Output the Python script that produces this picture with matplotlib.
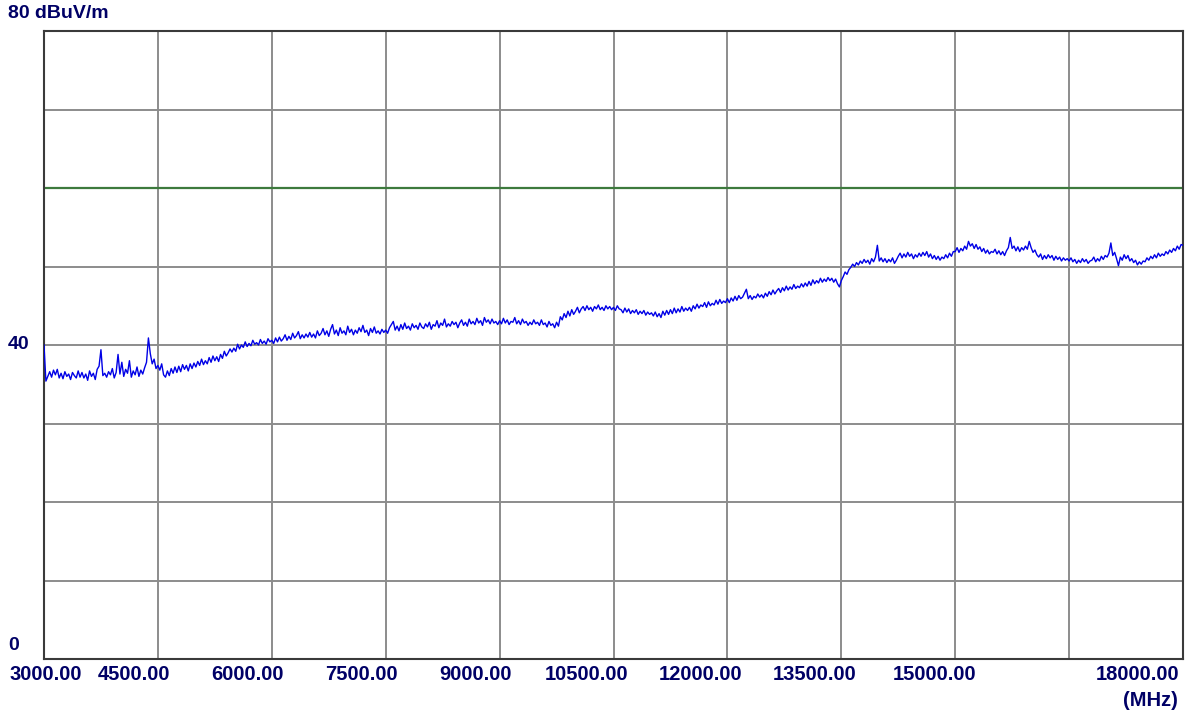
import numpy as np
import matplotlib
matplotlib.use('Agg')
import matplotlib.pyplot as plt
from matplotlib import transforms

# Frequency axis (MHz), one reading every 25 MHz
freq_start = 3000
freq_step = 25

level = [
    40.0, 35.4, 36.0, 36.6, 35.9, 36.8, 36.2, 36.9, 35.8, 36.4, 35.7, 36.6, 36.0, 36.3, 35.6, 36.5, 36.1, 35.8, 36.7, 35.9,
    36.5, 35.8, 36.3, 35.5, 36.7, 36.0, 36.4, 35.6, 36.9, 37.3, 39.4, 36.1, 36.4, 35.9, 36.6, 36.2, 37.0, 35.8, 36.5, 38.8,
    36.3, 37.8, 36.0, 36.9, 36.4, 38.0, 35.9, 36.7, 36.2, 37.2, 36.0, 36.8, 36.3, 37.1, 37.8, 40.9, 38.9, 37.6, 38.2, 37.0,
    37.4, 36.8, 37.6, 36.2, 35.9, 36.7, 36.1, 37.0, 36.4, 37.2, 36.5, 37.3, 36.6, 37.5, 36.9, 37.4, 36.7, 37.6, 37.0, 37.7,
    37.2, 37.9, 37.4, 38.2, 37.5, 38.0, 37.6, 38.4, 37.8, 38.6, 38.0, 38.5, 37.9, 38.8, 38.3, 39.2, 38.6, 39.0, 39.5, 39.1,
    39.6, 39.2, 40.1, 39.5, 40.0, 39.7, 40.4, 39.8, 40.2, 39.9, 40.6, 40.1, 40.3, 40.0, 40.7, 40.2, 40.5, 40.1, 40.8, 40.4,
    40.6, 40.2, 40.9, 40.4, 41.0, 40.5, 40.8, 41.3, 40.6, 41.1, 40.7, 41.5, 40.9, 41.2, 41.7, 40.8, 41.3, 40.9, 41.4, 41.0,
    41.6, 41.0, 41.4, 40.9, 41.8, 41.2, 41.5, 42.1, 41.3, 41.8, 41.1, 42.0, 42.6, 41.4, 41.9, 41.2, 42.2, 41.5, 41.8, 41.3,
    42.4, 41.6, 42.0, 41.3, 41.9, 41.5, 42.2, 41.7, 42.5, 41.6, 41.9, 41.2, 42.1, 41.6, 42.3, 41.5, 41.8, 41.4, 42.0, 41.6,
    41.9, 41.5, 42.2, 42.6, 43.0, 41.9, 42.4, 41.8, 42.6, 42.0, 42.8, 42.1, 42.4, 41.9, 42.7, 42.2, 42.5, 42.0, 42.8, 42.3,
    42.1, 42.7, 42.3, 42.9, 42.0, 42.6, 42.4, 43.1, 42.2, 42.8, 42.5, 43.3, 42.3, 42.7, 42.4, 43.0, 42.6, 42.9, 42.2, 42.8,
    43.2, 42.5, 42.9, 42.4, 43.3, 42.7, 43.0, 42.6, 43.4, 42.8, 43.1, 42.5, 43.5, 42.9, 43.2, 42.7, 43.3, 42.8, 43.0, 42.6,
    43.1, 42.7, 43.4, 42.8, 43.2, 42.6, 43.0, 42.9, 43.5, 42.7, 43.1, 42.6, 43.3, 42.8, 43.0, 42.5, 42.9, 42.6, 43.2, 42.7,
    42.9, 42.5, 43.2, 42.6, 42.8, 42.3, 43.0, 42.5, 42.7, 42.2, 42.9, 42.4, 43.6, 43.2, 44.0, 43.5, 44.3, 43.7, 44.5, 43.9,
    44.3, 44.8, 44.1, 44.6, 44.9, 44.4, 45.0, 44.5, 44.8, 44.3, 44.9, 44.6, 45.1, 44.5, 44.8, 44.4, 45.0, 44.6, 44.9, 44.5,
    44.8, 44.4, 45.0, 44.6, 44.5, 44.1, 44.7, 44.2, 44.6, 44.0, 44.4, 44.1, 44.5, 43.9, 44.3, 44.0, 44.4, 43.8, 44.2, 43.9,
    44.1, 43.7, 44.2, 43.6, 44.0, 43.5, 44.3, 43.8, 44.4, 43.9, 44.5, 44.0, 44.7, 44.1, 44.6, 44.2, 44.9, 44.3, 44.7, 44.4,
    44.8, 44.3, 45.0, 44.6, 45.2, 44.7, 45.1, 44.9, 45.4, 44.8, 45.5, 45.0, 45.3, 45.1, 45.7, 45.2, 45.8, 45.3, 45.6, 45.4,
    45.9, 45.4, 46.0, 45.6, 46.2, 45.7, 46.3, 45.9, 46.1, 46.6, 47.1, 45.9, 46.3, 45.8, 46.2, 46.0, 46.5, 46.1, 46.4, 46.0,
    46.6, 46.2, 46.8, 46.4, 47.0, 46.5, 46.9, 47.2, 46.7, 47.3, 46.9, 47.5, 47.0, 47.4, 47.1, 47.7, 47.2, 47.5, 47.3, 47.8,
    47.4, 47.9, 47.5, 48.1, 47.6, 48.3, 47.8, 48.2, 47.9, 48.5, 48.0, 48.4, 48.1, 48.6, 48.2, 48.5, 48.0, 48.4, 47.8, 47.4,
    48.2, 48.7, 49.3, 49.0, 49.6, 49.9, 50.3, 50.0, 50.5, 50.2, 50.7, 50.4, 50.9, 50.5, 50.8, 50.3, 51.0, 50.6, 51.2, 52.7,
    50.7, 51.1, 50.6, 51.0, 50.5, 50.9, 50.6, 51.1, 50.4, 50.8, 51.3, 51.7, 51.1, 51.6, 51.2, 51.8, 51.3, 51.6, 51.0, 51.5,
    51.2, 51.7, 51.3, 51.8, 51.4, 51.9, 51.2, 51.6, 51.0, 51.4, 50.9, 51.3, 50.8, 51.2, 51.0, 51.5, 51.1, 51.7, 51.3, 51.9,
    51.9, 52.4, 51.8, 52.3, 52.0, 52.6, 52.2, 53.2, 52.6, 52.9, 52.3, 52.8, 52.2, 52.5, 51.9, 52.3, 51.7, 52.1, 51.6, 51.9,
    51.8, 52.2, 51.6, 52.0, 51.5, 51.9, 51.4, 52.0, 52.4, 53.7, 52.3, 52.6, 52.0, 52.5, 51.9, 52.4, 52.1, 52.6, 52.2, 53.2,
    52.4, 51.8, 52.1, 51.5, 51.2, 51.6, 50.9, 51.4, 51.0, 51.5, 51.1, 51.4, 50.8, 51.3, 50.9, 51.2, 50.7, 51.1, 50.8, 51.0,
    50.7, 51.1, 50.6, 50.9, 50.4, 50.8, 50.5, 51.0, 50.6, 50.9, 50.4, 50.7, 50.8, 51.2, 50.6, 51.0, 50.7, 51.3, 50.9, 51.4,
    51.2, 51.7, 53.0, 51.4, 51.8, 51.0, 50.1, 51.2, 50.8, 51.5, 51.0, 51.4, 50.7, 51.0, 50.5, 50.8, 50.2, 50.6, 50.3, 50.7,
    50.6, 51.1, 50.8, 51.3, 51.0, 51.5, 51.1, 51.7, 51.3, 51.6, 51.4, 51.9, 51.6, 52.1, 51.8, 52.3, 52.0, 52.6, 52.2, 52.8,
    52.7,
]
freq = freq_start + freq_step * np.arange(len(level))

limit = 60
x_ticks = [3000, 4500, 6000, 7500, 9000, 10500, 12000, 13500, 15000, 18000]
x_labels = ['3000.00', '4500.00', '6000.00', '7500.00', '9000.00',
            '10500.00', '12000.00', '13500.00', '15000.00', '18000.00']
# label shift in pixels relative to the grid line (the analyser offsets them)
x_label_shift = [2, -24, -24, -24, -24, -27, -27, -27, -21, -45]
y_labels = {80: '80 dBuV/m', 40: '40', 0: '0'}

text_color = '#000066'
grid_color = '#8c8c8c'

fig = plt.figure(figsize=(11.91, 7.16), dpi=100)
ax = fig.add_axes([44 / 1191, 57 / 716, 1139 / 1191, 628 / 716])

ax.plot(freq, level, color='#0000e6', linewidth=1.0, zorder=3)
ax.axhline(limit, color='#3d7a3d', linewidth=1.6, zorder=2)

ax.set_xlim(3000, 18000)
ax.set_ylim(0, 80)
ax.set_xticks(np.arange(3000, 18001, 1500))
ax.set_yticks(np.arange(0, 81, 10))
ax.grid(True, color=grid_color, linewidth=1.4)
ax.tick_params(length=0, labelbottom=False, labelleft=False)
for s in ax.spines.values():
    s.set_color('#3a3a3a')
    s.set_linewidth(1.5)

xfont = dict(family='Liberation Sans', weight='bold', color=text_color, fontsize=14.5)
yfont = dict(family='Liberation Sans', weight='bold', color=text_color, fontsize=14)

# x labels
xtr = transforms.blended_transform_factory(ax.transData, fig.transFigure)
for val, lab, dx in zip(x_ticks, x_labels, x_label_shift):
    t = transforms.offset_copy(xtr, fig=fig, x=dx * 0.72, y=0, units='points')
    ax.text(val, 1 - 675 / 716, lab, transform=t, ha='center', va='center', **xfont)
fig.text(1178 / 1191, 1 - 700 / 716, '(MHz)', ha='right', va='center', **xfont)

# y labels
fig.text(8 / 1191, 1 - 14 / 716, y_labels[80], ha='left', va='center', **yfont)
fig.text(8 / 1191, 1 - 344 / 716, y_labels[40], ha='left', va='center', **yfont)
fig.text(8 / 1191, 1 - 646 / 716, y_labels[0], ha='left', va='center', **yfont)

fig.savefig('out.png', dpi=100)
